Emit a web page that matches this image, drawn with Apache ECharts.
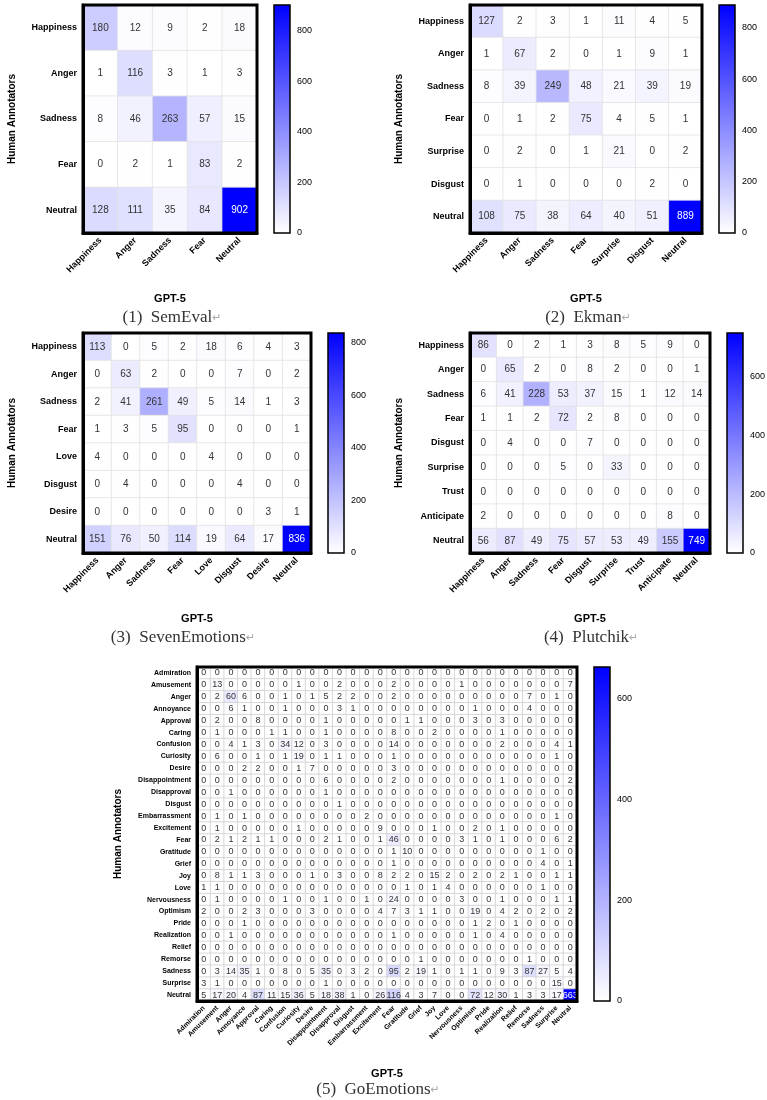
<!DOCTYPE html>
<html>
<head>
<meta charset="utf-8">
<script src="https://cdn.jsdelivr.net/npm/echarts@6/dist/echarts.min.js"></script>
<style>
  html, body { margin: 0; padding: 0; background: #fff; }
  #chart { width: 767px; height: 1100px; }
</style>
</head>
<body>
<div id="chart"></div>
<script>
// ---- data (rows = human annotators, cols = GPT-5) ----
var SEMEVAL_LABELS = ['Happiness', 'Anger', 'Sadness', 'Fear', 'Neutral'];
var SEMEVAL_VALUES = [
  [180, 12, 9, 2, 18],
  [1, 116, 3, 1, 3],
  [8, 46, 263, 57, 15],
  [0, 2, 1, 83, 2],
  [128, 111, 35, 84, 902]
];

var EKMAN_LABELS = ['Happiness', 'Anger', 'Sadness', 'Fear', 'Surprise', 'Disgust', 'Neutral'];
var EKMAN_VALUES = [
  [127, 2, 3, 1, 11, 4, 5],
  [1, 67, 2, 0, 1, 9, 1],
  [8, 39, 249, 48, 21, 39, 19],
  [0, 1, 2, 75, 4, 5, 1],
  [0, 2, 0, 1, 21, 0, 2],
  [0, 1, 0, 0, 0, 2, 0],
  [108, 75, 38, 64, 40, 51, 889]
];

var SEVEN_LABELS = ['Happiness', 'Anger', 'Sadness', 'Fear', 'Love', 'Disgust', 'Desire', 'Neutral'];
var SEVEN_VALUES = [
  [113, 0, 5, 2, 18, 6, 4, 3],
  [0, 63, 2, 0, 0, 7, 0, 2],
  [2, 41, 261, 49, 5, 14, 1, 3],
  [1, 3, 5, 95, 0, 0, 0, 1],
  [4, 0, 0, 0, 4, 0, 0, 0],
  [0, 4, 0, 0, 0, 4, 0, 0],
  [0, 0, 0, 0, 0, 0, 3, 1],
  [151, 76, 50, 114, 19, 64, 17, 836]
];

var PLUTCHIK_LABELS = ['Happiness', 'Anger', 'Sadness', 'Fear', 'Disgust', 'Surprise', 'Trust', 'Anticipate', 'Neutral'];
var PLUTCHIK_VALUES = [
  [86, 0, 2, 1, 3, 8, 5, 9, 0],
  [0, 65, 2, 0, 8, 2, 0, 0, 1],
  [6, 41, 228, 53, 37, 15, 1, 12, 14],
  [1, 1, 2, 72, 2, 8, 0, 0, 0],
  [0, 4, 0, 0, 7, 0, 0, 0, 0],
  [0, 0, 0, 5, 0, 33, 0, 0, 0],
  [0, 0, 0, 0, 0, 0, 0, 0, 0],
  [2, 0, 0, 0, 0, 0, 0, 8, 0],
  [56, 87, 49, 75, 57, 53, 49, 155, 749]
];

var GO_LABELS = ['Admiration', 'Amusement', 'Anger', 'Annoyance', 'Approval', 'Caring', 'Confusion',
  'Curiosity', 'Desire', 'Disappointment', 'Disapproval', 'Disgust', 'Embarrassment', 'Excitement',
  'Fear', 'Gratitude', 'Grief', 'Joy', 'Love', 'Nervousness', 'Optimism', 'Pride', 'Realization',
  'Relief', 'Remorse', 'Sadness', 'Surprise', 'Neutral'];
var GO_VALUES = [
  [0, 0, 0, 0, 0, 0, 0, 0, 0, 0, 0, 0, 0, 0, 0, 0, 0, 0, 0, 0, 0, 0, 0, 0, 0, 0, 0, 0],
  [0, 13, 0, 0, 0, 0, 0, 1, 0, 0, 2, 0, 0, 0, 2, 0, 0, 0, 0, 1, 0, 0, 0, 0, 0, 0, 0, 7],
  [0, 2, 60, 6, 0, 0, 1, 0, 1, 5, 2, 2, 0, 0, 2, 0, 0, 0, 0, 0, 0, 0, 0, 0, 7, 0, 1, 0],
  [0, 0, 6, 1, 0, 0, 1, 0, 0, 0, 3, 1, 0, 0, 0, 0, 0, 0, 0, 0, 1, 0, 0, 0, 4, 0, 0, 0],
  [0, 2, 0, 0, 8, 0, 0, 0, 0, 1, 0, 0, 0, 0, 0, 1, 1, 0, 0, 0, 3, 0, 3, 0, 0, 0, 0, 0],
  [0, 1, 0, 0, 0, 1, 1, 0, 0, 1, 0, 0, 0, 0, 8, 0, 0, 2, 0, 0, 0, 0, 1, 0, 0, 0, 0, 0],
  [0, 0, 4, 1, 3, 0, 34, 12, 0, 3, 0, 0, 0, 0, 14, 0, 0, 0, 0, 0, 0, 0, 2, 0, 0, 0, 4, 1],
  [0, 6, 0, 0, 1, 0, 1, 19, 0, 1, 1, 0, 0, 0, 1, 0, 0, 0, 0, 0, 0, 0, 0, 0, 0, 0, 1, 0],
  [0, 0, 0, 2, 2, 0, 0, 1, 7, 0, 0, 0, 0, 0, 3, 0, 0, 0, 0, 0, 0, 0, 0, 0, 0, 0, 0, 0],
  [0, 0, 0, 0, 0, 0, 0, 0, 0, 6, 0, 0, 0, 0, 2, 0, 0, 0, 0, 0, 0, 0, 1, 0, 0, 0, 0, 2],
  [0, 0, 1, 0, 0, 0, 0, 0, 0, 1, 0, 0, 0, 0, 0, 0, 0, 0, 0, 0, 0, 0, 0, 0, 0, 0, 0, 0],
  [0, 0, 0, 0, 0, 0, 0, 0, 0, 0, 1, 0, 0, 0, 0, 0, 0, 0, 0, 0, 0, 0, 0, 0, 0, 0, 0, 0],
  [0, 1, 0, 1, 0, 0, 0, 0, 0, 0, 0, 0, 2, 0, 0, 0, 0, 0, 0, 0, 0, 0, 0, 0, 0, 0, 1, 0],
  [0, 1, 0, 0, 0, 0, 0, 1, 0, 0, 0, 0, 0, 9, 0, 0, 0, 1, 0, 0, 2, 0, 1, 0, 0, 0, 0, 0],
  [0, 2, 1, 2, 1, 1, 0, 0, 0, 2, 1, 0, 0, 1, 46, 0, 0, 0, 0, 3, 1, 0, 1, 0, 0, 0, 6, 2],
  [0, 0, 0, 0, 0, 0, 0, 0, 0, 0, 0, 0, 0, 0, 1, 10, 0, 0, 0, 0, 0, 0, 0, 0, 0, 1, 0, 0],
  [0, 0, 0, 0, 0, 0, 0, 0, 0, 0, 0, 0, 0, 0, 1, 0, 0, 0, 0, 0, 0, 0, 0, 0, 0, 4, 0, 1],
  [0, 8, 1, 1, 3, 0, 0, 0, 1, 0, 3, 0, 0, 8, 2, 2, 0, 15, 2, 0, 2, 0, 2, 1, 0, 0, 1, 1],
  [1, 1, 0, 0, 0, 0, 0, 0, 0, 0, 0, 0, 0, 0, 0, 1, 0, 1, 4, 0, 0, 0, 0, 0, 0, 1, 0, 0],
  [0, 1, 0, 0, 0, 0, 1, 0, 0, 1, 0, 0, 1, 0, 24, 0, 0, 0, 0, 3, 0, 0, 1, 0, 0, 0, 1, 1],
  [2, 0, 0, 2, 3, 0, 0, 0, 3, 0, 0, 0, 0, 4, 7, 3, 1, 1, 0, 0, 19, 0, 4, 2, 0, 2, 0, 2],
  [0, 0, 0, 1, 0, 0, 0, 0, 0, 0, 0, 0, 0, 0, 0, 0, 0, 0, 0, 0, 1, 2, 0, 1, 0, 0, 0, 0],
  [0, 0, 1, 0, 0, 0, 0, 0, 0, 0, 0, 0, 0, 0, 1, 0, 0, 0, 0, 0, 1, 0, 4, 0, 0, 0, 0, 0],
  [0, 0, 0, 0, 0, 0, 0, 0, 0, 0, 0, 0, 0, 0, 0, 0, 0, 0, 0, 0, 0, 0, 0, 0, 0, 0, 0, 0],
  [0, 0, 0, 0, 0, 0, 0, 0, 0, 0, 0, 0, 0, 0, 0, 0, 1, 0, 0, 0, 0, 0, 0, 0, 1, 0, 0, 0],
  [0, 3, 14, 35, 1, 0, 8, 0, 5, 35, 0, 3, 2, 0, 95, 2, 19, 1, 0, 1, 1, 0, 9, 3, 87, 27, 5, 4],
  [3, 1, 0, 0, 0, 0, 0, 0, 0, 1, 0, 0, 0, 0, 0, 0, 0, 0, 0, 0, 0, 0, 0, 0, 0, 0, 15, 0],
  [5, 17, 20, 4, 87, 11, 15, 36, 5, 18, 38, 1, 0, 26, 116, 4, 3, 7, 0, 0, 72, 12, 30, 1, 3, 3, 17, 663]
];

var COLORBAR_STEP = 200;

// ---- layout ----
var FONT = '"Liberation Sans", Arial, sans-serif';
var SERIF = '"Liberation Serif", "Times New Roman", serif';
var BLUE = '#0000ff';

var PANELS = [
  { labels: SEMEVAL_LABELS, values: SEMEVAL_VALUES, caption: '(1)  SemEval',
    left: 83, top: 5, width: 174, height: 228, tick: 9, cell: 10, grid: '#e2e2e2',
    yGap: 66, xGap: 60, capX: 172, capY: 318 },
  { labels: EKMAN_LABELS, values: EKMAN_VALUES, caption: '(2)  Ekman',
    left: 470, top: 5, width: 232, height: 228, tick: 9, cell: 10, grid: '#e2e2e2',
    yGap: 66, xGap: 60, capX: 588, capY: 318 },
  { labels: SEVEN_LABELS, values: SEVEN_VALUES, caption: '(3)  SevenEmotions',
    left: 83, top: 333, width: 228, height: 220, tick: 9, cell: 10, grid: '#e2e2e2',
    yGap: 66, xGap: 60, capX: 183, capY: 638 },
  { labels: PLUTCHIK_LABELS, values: PLUTCHIK_VALUES, caption: '(4)  Plutchik',
    left: 470, top: 333, width: 240, height: 220, tick: 9, cell: 10, grid: '#e2e2e2',
    yGap: 66, xGap: 60, capX: 591, capY: 638 },
  { labels: GO_LABELS, values: GO_VALUES, caption: '(5)  GoEmotions',
    left: 197, top: 667, width: 380, height: 334, tick: 7, cell: 9, grid: '#cfcfcf',
    yGap: 74, xGap: 67, capX: 378, capY: 1090 }
];

function matrixMax(m) {
  return Math.max.apply(null, m.map(function (r) { return Math.max.apply(null, r); }));
}

var grids = [], xAxes = [], yAxes = [], series = [], visualMaps = [], graphics = [];

PANELS.forEach(function (p) {
  var max = matrixMax(p.values);
  var g = grids.length;

  grids.push({
    left: p.left, top: p.top, width: p.width, height: p.height,
    show: true, borderColor: '#000', borderWidth: 3, backgroundColor: 'transparent',
    z: 10, outerBoundsMode: 'none', containLabel: false
  });
  xAxes.push({
    gridIndex: g, type: 'category', data: p.labels, z: 10,
    name: 'GPT-5', nameLocation: 'middle', nameGap: p.xGap,
    nameTextStyle: { fontFamily: FONT, fontWeight: 'bold', fontSize: 11, color: '#000' },
    axisLine: { lineStyle: { color: '#000', width: 3 } },
    axisTick: { alignWithLabel: true, length: 4, lineStyle: { color: '#000', width: 2 } },
    axisLabel: { interval: 0, rotate: 45, margin: 6, fontFamily: FONT, fontWeight: 'bold',
      fontSize: p.tick, color: '#000' },
    splitLine: { show: false }
  });
  yAxes.push({
    gridIndex: g, type: 'category', data: p.labels, inverse: true, z: 10,
    name: 'Human Annotators', nameLocation: 'middle', nameGap: p.yGap, nameRotate: 90,
    nameTextStyle: { fontFamily: FONT, fontWeight: 'bold', fontSize: 10, color: '#000' },
    axisLine: { lineStyle: { color: '#000', width: 3 } },
    axisTick: { alignWithLabel: true, length: 4, lineStyle: { color: '#000', width: 2 } },
    axisLabel: { interval: 0, margin: 6, fontFamily: FONT, fontWeight: 'bold',
      fontSize: p.tick, color: '#000' },
    splitLine: { show: false }
  });

  var data = [];
  p.values.forEach(function (row, yi) {
    row.forEach(function (v, xi) {
      var item = { value: [xi, yi, v] };
      if (v > max * 0.6) item.label = { color: '#fff' };
      data.push(item);
    });
  });
  series.push({
    type: 'heatmap', xAxisIndex: g, yAxisIndex: g, data: data, silent: true,
    label: { show: true, fontFamily: FONT, fontSize: p.cell, color: '#333' },
    itemStyle: { borderColor: p.grid, borderWidth: 0.8 },
    emphasis: { disabled: true }
  });
  visualMaps.push({
    type: 'continuous', show: false, seriesIndex: series.length - 1,
    min: 0, max: max, inRange: { color: ['#ffffff', BLUE] }
  });

  // colour bar: its own grid with a value axis
  var cb = grids.length;
  grids.push({
    left: p.left + p.width + 17, top: p.top, width: 16, height: p.height,
    show: true, borderColor: '#000', borderWidth: 1.5, backgroundColor: 'transparent',
    z: 10, outerBoundsMode: 'none', containLabel: false
  });
  xAxes.push({ gridIndex: cb, type: 'category', data: [''], show: false });
  yAxes.push({
    gridIndex: cb, type: 'value', min: 0, max: max, interval: COLORBAR_STEP, position: 'right',
    axisLine: { show: false }, axisTick: { show: false }, splitLine: { show: false },
    axisLabel: { showMaxLabel: false, margin: 7, fontFamily: FONT, fontSize: 9, color: '#000' }
  });
  series.push({
    type: 'bar', xAxisIndex: cb, yAxisIndex: cb, data: [max], barWidth: '100%', silent: true,
    itemStyle: { color: new echarts.graphic.LinearGradient(0, 0, 0, 1, [
      { offset: 0, color: BLUE }, { offset: 1, color: '#ffffff' }
    ]) }
  });

  graphics.push({
    type: 'text', x: p.capX, y: p.capY,
    style: {
      text: p.caption + '{r|↵}',
      align: 'center', verticalAlign: 'middle', textAlign: 'center', textVerticalAlign: 'middle',
      font: '17px ' + SERIF, fill: '#333',
      rich: { r: { fill: '#aaa', fontSize: 11, fontFamily: '"DejaVu Sans", sans-serif' } }
    }
  });
});

var chart = echarts.init(document.getElementById('chart'), null, { renderer: 'canvas' });
chart.setOption({
  animation: false,
  backgroundColor: '#fff',
  grid: grids,
  xAxis: xAxes,
  yAxis: yAxes,
  visualMap: visualMaps,
  series: series,
  graphic: graphics
});
</script>
</body>
</html>
